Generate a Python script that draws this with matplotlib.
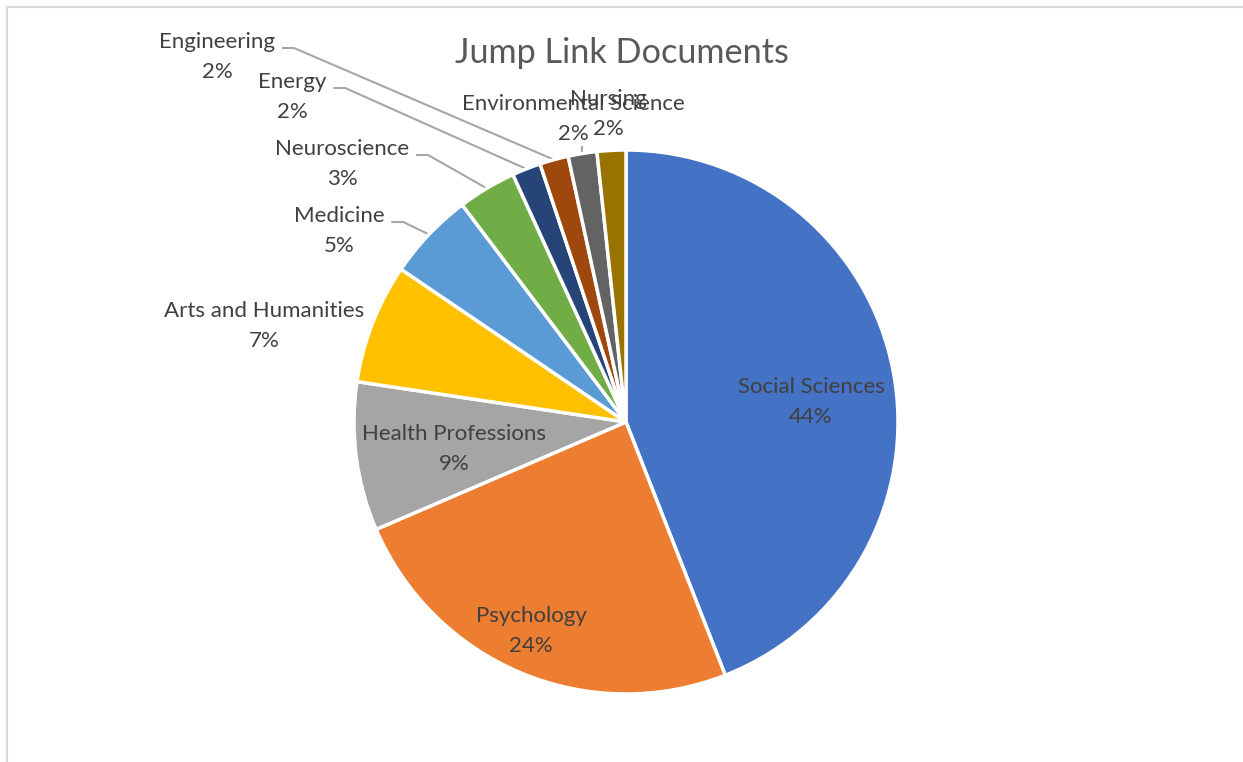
import matplotlib
matplotlib.use("Agg")
import matplotlib.pyplot as plt
import numpy as np

# ---- data ----
categories = ["Social Sciences", "Psychology", "Health Professions", "Arts and Humanities",
              "Medicine", "Neuroscience", "Energy", "Engineering",
              "Environmental Science", "Nursing"]
shares = [43.9, 24.4, 8.8, 7.1, 5.2, 3.45, 1.7, 1.7, 1.7, 1.7]
colors = ["#4472C4", "#ED7D31", "#A5A5A5", "#FFC000", "#5B9BD5",
          "#70AD47", "#264478", "#9E480E", "#636363", "#997300"]
title = "Jump Link Documents"

# ---- layout (pixels, y measured from top) ----
W, H = 1243, 762
CX, CY, R = 626, 422, 272
# label: (center x, baseline of first line in px), leader: None / 'elbow' / 'tick'
label_pos = {
    "Social Sciences": (811, 393, None),
    "Psychology": (531, 622, None),
    "Health Professions": (454, 440, None),
    "Arts and Humanities": (264, 317, None),
    "Medicine": (339, 222, "elbow"),
    "Neuroscience": (342, 155, "elbow"),
    "Energy": (292, 88, "elbow"),
    "Engineering": (217, 48, "elbow"),
    "Environmental Science": (573, 110, "tick"),
    "Nursing": (608, 105, None),
}
LINE_GAP = 30
FONT = ["Lato", "DejaVu Sans"]
LABEL_SIZE = 16
TITLE_SIZE = 24.7
TXT = "#404040"
LEADER = "#A6A6A6"

fig = plt.figure(figsize=(W / 100, H / 100), dpi=100)
fig.patch.set_facecolor("white")
ax = fig.add_axes([0, 0, 1, 1])

def Y(py):
    return H - py

total = sum(shares)
wedges, _ = ax.pie(shares, colors=colors, startangle=90, counterclock=False,
                   center=(CX, Y(CY)), radius=R,
                   wedgeprops=dict(edgecolor="white", linewidth=2.5))
ax.set_xlim(0, W)
ax.set_ylim(0, H)
ax.set_aspect("auto")
ax.axis("off")

fig.canvas.draw()
renderer = fig.canvas.get_renderer()

for w, cat, val in zip(wedges, categories, shares):
    x, b1, leader = label_pos[cat]
    pct = "{:.0f}%".format(val / total * 100)
    t1 = ax.text(x, Y(b1), cat, ha="center", va="baseline", fontsize=LABEL_SIZE,
                 color=TXT, family=FONT)
    ax.text(x, Y(b1 + LINE_GAP), pct, ha="center", va="baseline", fontsize=LABEL_SIZE,
            color=TXT, family=FONT)
    mid = np.deg2rad((w.theta1 + w.theta2) / 2)
    ex = CX + R * np.cos(mid)
    ey = Y(CY) + R * np.sin(mid)
    if leader == "elbow":
        bb = t1.get_window_extent(renderer)
        x0 = bb.x1 + 7
        x1 = x0 + 12
        ax.plot([x0, x1, ex], [Y(b1), Y(b1), ey], color=LEADER, lw=1.5,
                solid_capstyle="butt", zorder=0)
    elif leader == "tick":
        ax.plot([ex, ex], [Y(147), ey], color=LEADER, lw=1.5, zorder=0)

ax.text(621.5, Y(63), title, ha="center", va="baseline", fontsize=TITLE_SIZE,
        color="#595959", family=FONT)

# chart-area border
ax.plot([7, W], [Y(7), Y(7)], color="#D9D9D9", lw=1.5, clip_on=False)
ax.plot([7, 7], [Y(7), 0], color="#D9D9D9", lw=1.5, clip_on=False)

fig.savefig("out.png", dpi=100, facecolor="white")
